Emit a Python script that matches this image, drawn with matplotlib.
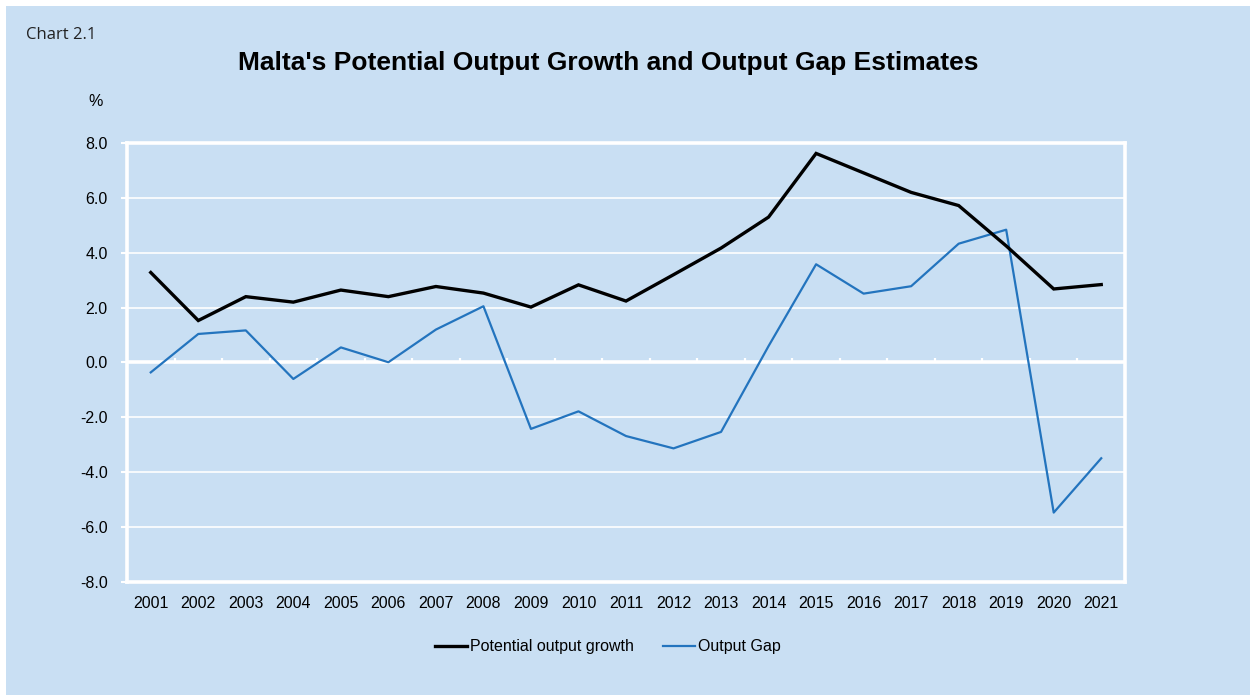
import numpy as np
import matplotlib
matplotlib.use('Agg')
import matplotlib.pyplot as plt
from matplotlib.patches import Rectangle

# Potential output growth and output gap, % (2001-2021)
years = [str(y) for y in range(2001, 2022)]
potential_growth = [3.28, 1.53, 2.40, 2.20, 2.64, 2.40, 2.77, 2.53, 2.02, 2.83,
                    2.24, 3.20, 4.17, 5.30, 7.62, 6.91, 6.20, 5.72, 4.25, 2.68, 2.84]
output_gap = [-0.36, 1.04, 1.17, -0.60, 0.55, 0.01, 1.20, 2.05, -2.42, -1.78,
              -2.68, -3.13, -2.53, 0.60, 3.58, 2.51, 2.78, 4.33, 4.84, -5.47, -3.49]
y_ticks = [-8, -6, -4, -2, 0, 2, 4, 6, 8]

bg = '#C9DFF3'
blue = '#2374BE'
plt.rcParams['font.family'] = ['Liberation Sans', 'DejaVu Sans']

fig = plt.figure(figsize=(12.5, 6.95), dpi=100, facecolor='white')
# light blue panel behind everything, thin white strip on top/left
fig.patches.append(Rectangle((6 / 1250, 0), 1, 1 - 6 / 695, transform=fig.transFigure,
                             facecolor=bg, edgecolor='none', zorder=-1))

ax = fig.add_axes([127 / 1250, 1 - 582 / 695, 998 / 1250, 439 / 695])
ax.set_facecolor(bg)

x = np.arange(len(years))
ax.plot(x, potential_growth, color='black', lw=2.4, label='Potential output growth',
        solid_joinstyle='miter', zorder=4)
ax.plot(x, output_gap, color=blue, lw=1.6, label='Output Gap', zorder=3)

ax.set_xlim(-0.5, len(years) - 0.5)
ax.set_ylim(-8, 8)
ax.set_yticks(y_ticks)
ax.set_yticklabels([f'{v:.1f}' for v in y_ticks], fontsize=11.5)
ax.set_xticks(x)
ax.set_xticklabels(years, fontsize=11.5)

for v in y_ticks[1:-1]:
    if v == 0:
        continue
    ax.axhline(v, color='white', lw=1.2, zorder=1)
ax.axhline(0, color='white', lw=2.6, zorder=2)
# small category separators rising from the zero line
ax.vlines(x[:-1] + 0.5, 0, 0.15, color='white', lw=1.6, zorder=2)

for s in ax.spines.values():
    s.set_color('white')
    s.set_linewidth(2.6)

ax.tick_params(axis='y', direction='out', length=4, width=1.5, color='white',
               pad=10, labelcolor='black')
ax.tick_params(axis='x', length=0, pad=10, labelcolor='black')

fig.text(26 / 1250, 1 - 35 / 695, 'Chart 2.1', fontsize=12, family='Open Sans',
         va='center', ha='left', color='#222222')
fig.text(608 / 1250, 1 - 63 / 695, "Malta's Potential Output Growth and Output Gap Estimates",
         fontsize=19, fontweight='bold', ha='center', va='center')
fig.text(96 / 1250, 1 - 101 / 695, '%', fontsize=11.5, ha='center', va='center')

fig.legend(loc='center', bbox_to_anchor=(608 / 1250, 1 - 647 / 695), ncol=2,
           frameon=False, fontsize=11.5, handlelength=2.0, handletextpad=0.2,
           columnspacing=1.8)

fig.savefig('out.png', dpi=100, facecolor='white')
